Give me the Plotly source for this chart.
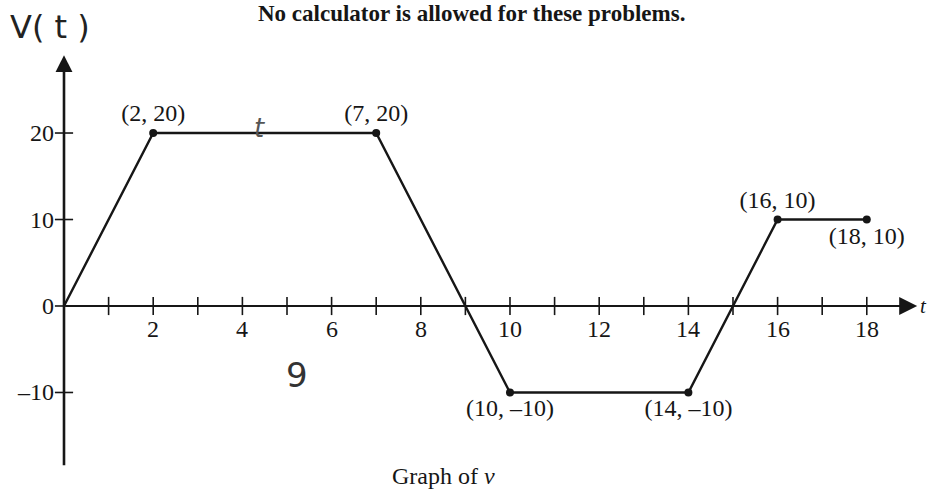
import plotly.graph_objects as go

# ---- data ----
t_vals = [0, 2, 7, 10, 14, 16, 18]
v_vals = [0, 20, 20, -10, -10, 10, 10]
pt_t = [2, 7, 10, 14, 16, 18]
pt_v = [20, 20, -10, -10, 10, 10]
pt_labels = ["(2, 20)", "(7, 20)", "(10, \u201310)", "(14, \u201310)", "(16, 10)", "(18, 10)"]
pt_pos = ["top center", "top center", "bottom center", "bottom center", "top center", "bottom center"]
x_minor = list(range(1, 19))
x_major = [2, 4, 6, 8, 10, 12, 14, 16, 18]
x_major_labels = ["2", "4", "6", "8", "10", "12", "14", "16", "18"]
y_ticks = [-10, 0, 10, 20]
y_tick_labels = ["\u201310", "0", "10", "20"]
x_axis_end = 19.13
y_axis_top = 29.0
y_axis_bottom = -18.6

INK = "#161616"
SERIF = "Liberation Serif"

fig = go.Figure()

# axis ticks
fig.add_trace(go.Scatter(x=x_minor, y=[0] * len(x_minor), mode="markers",
                         marker=dict(symbol="line-ns", size=13, line=dict(width=1.6, color=INK)),
                         hoverinfo="skip", showlegend=False))
fig.add_trace(go.Scatter(x=[0] * len(y_ticks), y=y_ticks, mode="markers",
                         marker=dict(symbol="line-ew", size=13, line=dict(width=1.6, color=INK)),
                         hoverinfo="skip", showlegend=False))

# graph of v
fig.add_trace(go.Scatter(x=t_vals, y=v_vals, mode="lines",
                         line=dict(color=INK, width=2.4), hoverinfo="skip", showlegend=False))
fig.add_trace(go.Scatter(x=pt_t, y=pt_v, mode="markers+text", text=pt_labels,
                         textposition=pt_pos,
                         textfont=dict(family=SERIF, size=24, color=INK),
                         marker=dict(size=8, color=INK),
                         hoverinfo="skip", showlegend=False))

annotations = []
# axes with arrows
annotations.append(dict(x=x_axis_end, y=0, ax=0, ay=0, xref="x", yref="y", axref="x", ayref="y",
                        text="", showarrow=True, arrowhead=2, arrowsize=1.8, arrowwidth=2, arrowcolor=INK))
annotations.append(dict(x=0, y=y_axis_top, ax=0, ay=y_axis_bottom, xref="x", yref="y", axref="x", ayref="y",
                        text="", showarrow=True, arrowhead=2, arrowsize=1.3, arrowwidth=2.6, arrowcolor=INK))
# tick labels
for xv, lab in zip(x_major, x_major_labels):
    annotations.append(dict(x=xv, y=0, xref="x", yref="y", text=lab, showarrow=False,
                            yanchor="top", yshift=-8, font=dict(family=SERIF, size=24, color=INK)))
for yv, lab in zip(y_ticks, y_tick_labels):
    annotations.append(dict(x=0, y=yv, xref="x", yref="y", text=lab, showarrow=False,
                            xanchor="right", xshift=-8, font=dict(family=SERIF, size=24, color=INK)))
# axis name t
annotations.append(dict(x=x_axis_end, y=0, xref="x", yref="y", text="<i>t</i>", showarrow=False,
                        xanchor="left", xshift=1, font=dict(family=SERIF, size=21, color=INK)))
# handwritten label V(t)
annotations.append(dict(x=8 / 929, y=1 - 27 / 489, xref="paper", yref="paper", text="V( t )", showarrow=False,
                        xanchor="left", yanchor="middle", font=dict(family="DejaVu Sans", size=32, color="#222222")))
# handwritten scribbles
annotations.append(dict(x=4.39, y=20.6, xref="x", yref="y", text="<i>t</i>", showarrow=False,
                        font=dict(family="DejaVu Sans", size=26, color="#555555")))
annotations.append(dict(x=5.22, y=-8.0, xref="x", yref="y", text="9", showarrow=False,
                        font=dict(family="DejaVu Sans", size=34, color="#333333")))
# title
annotations.append(dict(x=471 / 929, y=1 - 14 / 489, xref="paper", yref="paper",
                        text="<b>No calculator is allowed for these problems.</b>", showarrow=False,
                        xanchor="center", yanchor="middle", font=dict(family=SERIF, size=23, color=INK)))
# caption
annotations.append(dict(x=443 / 929, y=1 - 476 / 489, xref="paper", yref="paper",
                        text="Graph of <i>v</i>", showarrow=False,
                        xanchor="center", yanchor="middle", font=dict(family=SERIF, size=24, color=INK)))

fig.update_layout(
    width=929, height=489,
    margin=dict(l=0, r=0, t=0, b=0),
    paper_bgcolor="white", plot_bgcolor="white",
    xaxis=dict(range=[-1.435, 19.395], visible=False, fixedrange=True),
    yaxis=dict(range=[-21.16, 35.38], visible=False, fixedrange=True),
    annotations=annotations,
    showlegend=False,
)

fig.write_html("out.html", config={"displayModeBar": False},
               post_script="document.body.style.margin='0';document.body.style.overflow='hidden';")
